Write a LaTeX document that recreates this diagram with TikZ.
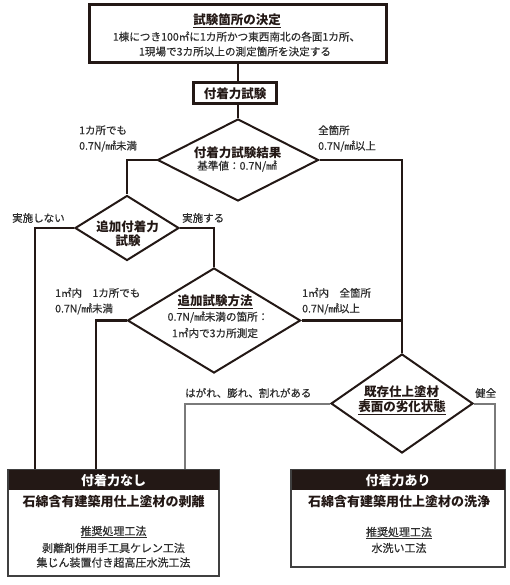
\documentclass[tikz,border=0pt]{standalone}
\usepackage{fontspec}
\setmainfont{Noto Sans CJK JP}
\newfontfamily\jpmed{Noto Sans CJK JP}[FakeBold=0.5]
\usetikzlibrary{shapes.geometric}
\definecolor{ink}{HTML}{231815}
\definecolor{txt}{HTML}{2E2E2E}
\definecolor{gline}{HTML}{7A7A7A}
\definecolor{bline}{HTML}{404040}
\begin{document}
\begin{tikzpicture}[x=1pt,y=-1pt,
  conn/.style={draw=ink,line width=2.8pt},
  gconn/.style={draw=gline,line width=2pt},
  dia/.style={shape=diamond,draw=ink,line width=2pt,inner sep=0pt,fill=white},
  thickbox/.style={draw=ink,line width=3pt,fill=white,inner sep=0pt},
  resbox/.style={draw=bline,line width=1.4pt,fill=white,inner sep=0pt},
  headbar/.style={fill=ink,inner sep=0pt,text=white,font=\bfseries\fontsize{13}{15}\selectfont},
  lbl/.style={font=\jpmed\fontsize{10.5}{15.5}\selectfont,text=txt,align=left,inner sep=0pt,anchor=west},
  body/.style={font=\jpmed\fontsize{10.6}{14}\selectfont,text=txt,inner sep=0pt},
  ttl/.style={font=\bfseries\fontsize{12.5}{15}\selectfont,text=ink,inner sep=0pt},
  big/.style={font=\bfseries\fontsize{13}{15}\selectfont,text=ink,inner sep=0pt},
  sub/.style={font=\jpmed\fontsize{11}{14}\selectfont,text=txt,inner sep=0pt}
]
\useasboundingbox (0,0) rectangle (510,585);

% boxes and diamonds
\node[thickbox,minimum width=297,minimum height=58] (top) at (237.5,34) {};
\node[ttl] (topT) at (237,21) {\underline{試験箇所の決定}};
\node[body] (topL1) at (236.5,36.5) {1棟につき100㎡に1カ所かつ東西南北の各面1カ所、};
\node[body] (topL2) at (235,51.5) {1現場で3カ所以上の測定箇所を決定する};

\node[thickbox,minimum width=83,minimum height=21,ttl] (test) at (235,93.5) {付着力試験};

\node[dia,minimum width=161,minimum height=82] (d1) at (238,160) {};
\node[ttl] (d1a) at (237.5,153) {付着力試験結果};
\node[body] (d1b) at (237,166) {基準値：0.7N/㎟};

\node[dia,minimum width=104,minimum height=65] (d2) at (127,228) {};
\node[ttl] (d2a) at (127.5,227) {追加付着力};
\node[ttl] (d2b) at (128,240.5) {試験};

\node[dia,minimum width=173,minimum height=105] (d4) at (214,320.5) {};
\node[ttl] (d4a) at (215,302) {\underline{追加試験方法}};
\node[body] (d4b) at (218,317) {0.7N/㎟未満の箇所：};
\node[body] (d4c) at (215,333) {1㎡内で3カ所測定};

\node[dia,minimum width=142,minimum height=99] (d5) at (402,403.5) {};
\node[ttl] (d5a) at (401.5,392.5) {\underline{既存仕上塗材}};
\node[ttl] (d5b) at (402,408) {\underline{表面の劣化状態}};

% connectors
\draw[conn] (d1.north |- top.south) -- (d1.north |- test.north);
\draw[conn] (d1.north |- test.south) -- (d1.north);
\draw[conn] (d1.west) -| (d2.north);
\draw[conn] (d1.east) -| (d5.north);
\coordinate (eL1) at (35,470);
\coordinate (eL2) at (96,470);
\coordinate (eL3) at (185,470);
\coordinate (eR1) at (495,470);
\draw[conn] (d2.west) -| (eL1);
\draw[conn] (d2.east) -| (d4.north);
\draw[conn] (d4.west) -| (eL2);
\draw[conn] (d4.east) -- (d4.east -| d5.north);
\draw[gconn] (d5.west) -| (eL3);
\draw[gconn] (d5.east) -| (eR1);

% result boxes
\node[resbox,minimum width=211,minimum height=106] (boxL) at (113.5,523) {};
\node[headbar,minimum width=210,minimum height=20,anchor=north] (hL) at ([yshift=-0.7pt]boxL.north) {付着力なし};
\node[big] (bL1) at (113.5,502) {石綿含有建築用仕上塗材の剥離};
\node[sub] (bL2) at (113.5,532) {\underline{推奨処理工法}};
\node[sub] (bL3) at (113.5,548) {剥離剤併用手工具ケレン工法};
\node[sub] (bL4) at (113.5,562.5) {集じん装置付き超高圧水洗工法};

\node[resbox,minimum width=214,minimum height=97] (boxR) at (398,518.5) {};
\node[headbar,minimum width=213,minimum height=20,anchor=north] (hR) at ([yshift=-0.7pt]boxR.north) {付着力あり};
\node[big] (bR1) at (399,501.5) {石綿含有建築用仕上塗材の洗浄};
\node[sub] (bR2) at (399,533) {\underline{推奨処理工法}};
\node[sub] (bR3) at (399,548) {水洗い工法};

% branch labels
\node[lbl] (l1) at (79,138.5) {1カ所でも\\0.7N/㎟未満};
\node[lbl] (l2) at (318,138.5) {全箇所\\0.7N/㎟以上};
\node[lbl] (l3) at (12,218) {実施しない};
\node[lbl] (l4) at (182,218) {実施する};
\node[lbl] (l5) at (55,301) {1㎡内　1カ所でも\\0.7N/㎟未満};
\node[lbl] (l6) at (302,301) {1㎡内　全箇所\\0.7N/㎟以上};
\node[lbl] (l7) at (185,393) {はがれ、膨れ、割れがある};
\node[lbl] (l8) at (475,393) {健全};
\end{tikzpicture}
\end{document}
